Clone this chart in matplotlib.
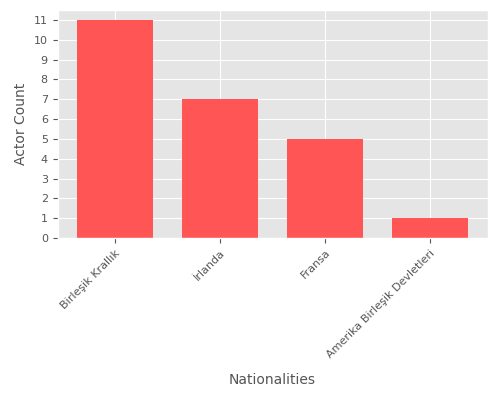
import matplotlib
matplotlib.use("Agg")
import matplotlib.pyplot as plt

nationalities = ["Birleşik Krallık", "İrlanda", "Fransa", "Amerika Birleşik Devletleri"]
actor_counts = [11, 7, 5, 1]

plt.style.use("ggplot")
fig, ax = plt.subplots(figsize=(5, 4), dpi=100)
ax.bar(nationalities, actor_counts, width=0.72, color="#ff5555")
ax.set_yticks(range(0, 12))
ax.set_ylim(0, 11.5)
ax.set_xlabel("Nationalities", fontsize=10, color="#555555", labelpad=10)
ax.set_ylabel("Actor Count", fontsize=10, color="#555555")
ax.tick_params(axis="both", labelsize=8)
plt.setp(ax.get_xticklabels(), rotation=45, ha="right", rotation_mode="anchor")
fig.subplots_adjust(left=0.115, right=0.975, top=0.975, bottom=0.405)
fig.savefig("out.png")
